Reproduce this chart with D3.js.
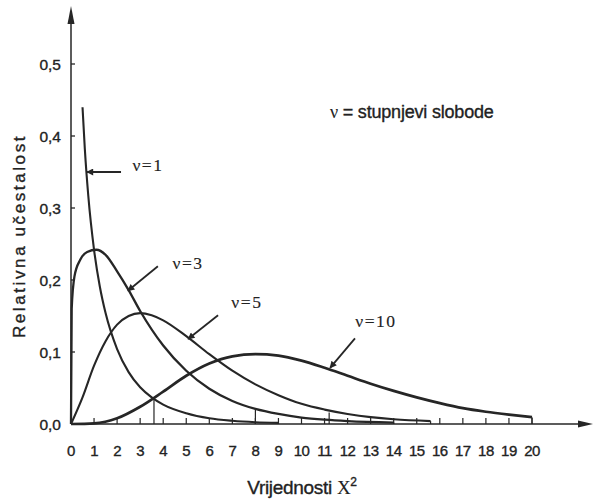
<!DOCTYPE html>
<html>
<head>
<meta charset="utf-8">
<script src="https://cdn.jsdelivr.net/npm/d3@7"></script>
<style>
body { margin: 0; background: #fff; }
text { font-family: "Liberation Sans", Arial, sans-serif; fill: #222; stroke: #222; stroke-width: 0.35px; }
</style>
</head>
<body>
<div id="chart"></div>
<script>
// values (relative frequency vs chi-square value)
const nu1X = [0.5, 0.6, 0.75, 1, 1.25, 1.5, 2, 2.5, 3, 3.5, 4, 5, 6, 7, 8, 9]
const nu1Y = [0.44, 0.382, 0.317, 0.242, 0.191, 0.154, 0.104, 0.072, 0.051, 0.037, 0.027, 0.015, 0.008, 0.0045, 0.0025, 0.0015]

const nu3X = [0, 0.03, 0.15, 0.4, 0.7, 1.1, 1.5, 2, 2.5, 3, 4, 5, 6, 7, 8, 9, 10, 11, 12, 14]
const nu3Y = [0, 0.16, 0.205, 0.228, 0.239, 0.242, 0.235, 0.212, 0.186, 0.157, 0.109, 0.074, 0.049, 0.032, 0.021, 0.014, 0.009, 0.006, 0.004, 0.002]

const nu5X = [0, 0.5, 1, 1.5, 2, 2.5, 3, 3.5, 4, 5, 6, 7, 8, 9, 10, 11, 12, 13, 14, 15.6]
const nu5Y = [0, 0.037, 0.081, 0.115, 0.138, 0.15, 0.154, 0.151, 0.144, 0.122, 0.097, 0.074, 0.055, 0.04, 0.028, 0.02, 0.014, 0.0095, 0.0065, 0.004]

const nu10X = [0, 1, 2, 3, 4, 5, 6, 7, 8, 9, 10, 11, 12, 13, 14, 15, 16, 17, 18, 19, 20]
const nu10Y = [0, 0.001, 0.008, 0.024, 0.045, 0.067, 0.084, 0.094, 0.097, 0.095, 0.088, 0.078, 0.067, 0.056, 0.046, 0.037, 0.029, 0.022, 0.017, 0.013, 0.0095]

const xTickLabels = ["0","1","2","3","4","5","6","7","8","9","10","11","12","13","14","15","16","17","18","19","20"]
const yTickValues = [0, 0.1, 0.2, 0.3, 0.4, 0.5]
const yTickLabels = ["0,0","0,1","0,2","0,3","0,4","0,5"]

// curve labels and their arrows, in data units
const labelNames = ["\u03bd=1", "\u03bd=3", "\u03bd=5", "\u03bd=10"]
const labelX = [3.34, 5.08, 7.63, 13.23]
const labelY = [0.36, 0.224, 0.169, 0.143]
const arrowFrom = [[2.17, 0.35], [3.77, 0.219], [6.38, 0.151], [12.32, 0.119]]
const arrowTo = [[0.69, 0.35], [2.47, 0.185], [5.08, 0.118], [11.24, 0.078]]

// short drop lines from curves to the axis seen in the drawing
const dropX = [3.6, 8, 11.2, 15.6, 20, 9, 14]
const dropY = [0.035, 0.021, 0.016, 0.004, 0.0095, 0.0015, 0.002]

const width = 595
const height = 502

const svg = d3.select("#chart")
    .append("svg")
    .attr("width", width)
    .attr("height", height)

const x = d3.scaleLinear().domain([0, 20]).range([71, 532])
const y = d3.scaleLinear().domain([0, 0.5]).range([424, 64])

const ink = "#262626"

// axes
svg.append("line")
    .attr("x1", x(0)).attr("x2", x(0))
    .attr("y1", y(0)).attr("y2", 14)
    .attr("stroke", ink).attr("stroke-width", 1.5)
svg.append("path")
    .attr("d", `M${x(0)},6 L${x(0) - 3.5},24 L${x(0) + 3.5},24 Z`)
    .attr("fill", ink)

svg.append("line")
    .attr("x1", x(0)).attr("x2", 586)
    .attr("y1", y(0)).attr("y2", y(0))
    .attr("stroke", ink).attr("stroke-width", 1.5)
svg.append("path")
    .attr("d", `M593,${y(0)} L578,${y(0) - 3.5} L578,${y(0) + 3.5} Z`)
    .attr("fill", ink)

// y ticks
svg.selectAll(".ytick")
    .data(yTickValues.slice(1))
    .enter().append("line")
    .attr("x1", x(0)).attr("x2", x(0) + 4)
    .attr("y1", d => y(d)).attr("y2", d => y(d))
    .attr("stroke", ink).attr("stroke-width", 1.3)

svg.selectAll(".ylab")
    .data(yTickValues)
    .enter().append("text")
    .attr("x", 61)
    .attr("y", d => y(d) + 5.5)
    .attr("text-anchor", "end")
    .style("font-size", "15.5px")
    .text((d, i) => yTickLabels[i])

// x ticks
svg.selectAll(".xtick")
    .data(xTickLabels)
    .enter().append("line")
    .attr("x1", (d, i) => x(i)).attr("x2", (d, i) => x(i))
    .attr("y1", y(0)).attr("y2", y(0) - 6)
    .attr("stroke", ink).attr("stroke-width", 1.2)
    .style("display", (d, i) => i === 0 ? "none" : null)

svg.selectAll(".xlab")
    .data(xTickLabels)
    .enter().append("text")
    .attr("x", (d, i) => x(i))
    .attr("y", 456)
    .attr("text-anchor", "middle")
    .style("font-size", "15px")
    .style("letter-spacing", "-0.5px")
    .text(d => d)

// drop lines
svg.selectAll(".drop")
    .data(dropX)
    .enter().append("line")
    .attr("x1", d => x(d)).attr("x2", d => x(d))
    .attr("y1", y(0)).attr("y2", (d, i) => y(dropY[i]))
    .attr("stroke", ink).attr("stroke-width", 1.2)

// curves
const line = d3.line()
    .x(d => x(d[0]))
    .y(d => y(d[1]))
    .curve(d3.curveMonotoneX)

const series = [
    { xs: nu1X, ys: nu1Y, w: 2.1 },
    { xs: nu3X, ys: nu3Y, w: 2.3 },
    { xs: nu5X, ys: nu5Y, w: 2.1 },
    { xs: nu10X, ys: nu10Y, w: 2.7 }
]

svg.selectAll(".curve")
    .data(series)
    .enter().append("path")
    .attr("d", s => line(s.xs.map((v, i) => [v, s.ys[i]])))
    .attr("fill", "none")
    .attr("stroke", ink)
    .attr("stroke-width", s => s.w)
    .attr("stroke-linejoin", "round")

// arrows
svg.append("defs").append("marker")
    .attr("id", "head")
    .attr("viewBox", "0 0 10 10")
    .attr("refX", 9).attr("refY", 5)
    .attr("markerWidth", 10).attr("markerHeight", 7)
    .attr("markerUnits", "userSpaceOnUse")
    .attr("orient", "auto")
    .append("path")
    .attr("d", "M0,0 L10,5 L0,10 Z")
    .attr("fill", ink)

svg.selectAll(".arrow")
    .data(arrowFrom)
    .enter().append("line")
    .attr("x1", d => x(d[0])).attr("y1", d => y(d[1]))
    .attr("x2", (d, i) => x(arrowTo[i][0])).attr("y2", (d, i) => y(arrowTo[i][1]))
    .attr("stroke", ink).attr("stroke-width", 1.8)
    .attr("marker-end", "url(#head)")

svg.selectAll(".clab")
    .data(labelNames)
    .enter().append("text")
    .attr("x", (d, i) => x(labelX[i]))
    .attr("y", (d, i) => y(labelY[i]) + 6)
    .attr("text-anchor", "middle")
    .style("font-family", "'Liberation Serif', 'Times New Roman', serif")
    .style("font-size", "17.5px")
    .style("stroke-width", "0.15px")
    .style("letter-spacing", "1.5px")
    .text(d => d)

// legend note
const note = svg.append("text")
    .attr("x", 330)
    .attr("y", 118)
    .style("font-size", "18px")
    .style("letter-spacing", "-0.2px")
note.append("tspan")
    .style("font-family", "'Liberation Serif', serif")
    .style("font-size", "18px")
    .style("stroke-width", "0.1px")
    .text("\u03bd")
note.append("tspan").text(" = stupnjevi slobode")

// axis titles
svg.append("text")
    .attr("transform", "translate(25,236) rotate(-90)")
    .attr("text-anchor", "middle")
    .style("font-size", "17px")
    .style("letter-spacing", "2.6px")
    .text("Relativna u\u010destalost")

const xt = svg.append("text")
    .attr("x", 302)
    .attr("y", 494)
    .attr("text-anchor", "middle")
    .style("font-size", "19px")
    .style("letter-spacing", "-0.3px")
xt.append("tspan").text("Vrijednosti ")
xt.append("tspan")
    .style("font-family", "'Liberation Serif', serif")
    .style("stroke-width", "0.1px")
    .text("X")
xt.append("tspan")
    .attr("dy", -8)
    .style("font-size", "12px")
    .text("2")
</script>
</body>
</html>
